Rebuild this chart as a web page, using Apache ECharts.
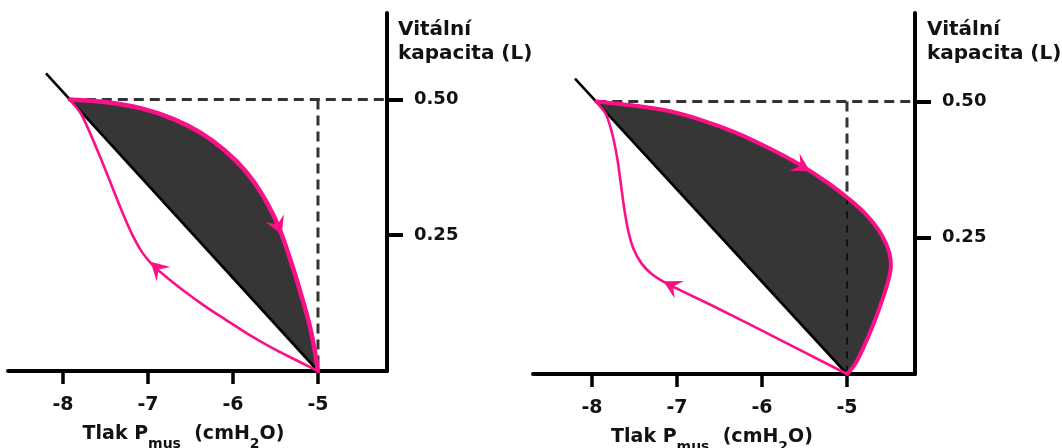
<!DOCTYPE html>
<html>
<head>
<meta charset="utf-8">
<script src="https://cdn.jsdelivr.net/npm/echarts@6/dist/echarts.min.js"></script>
<style>
  html, body { margin: 0; padding: 0; background: #ffffff; }
  #chart { width: 1062px; height: 448px; }
</style>
</head>
<body>
<div id="chart"></div>
<script>
// Axis tick values shared by both panels
const pressureTicks = [-8, -7, -6, -5];
const volumeTicks = [0.25, 0.5];

// Panel A: slow breath (P_mus in cmH2O, volume in L)
const leftCompliance = [[-8.2, 0.548], [-5, 0]];
const leftInspiration = [
  [-7.92, 0.5], [-7.484, 0.495], [-7.089, 0.484], [-6.698, 0.464], [-6.373, 0.438],
  [-6.096, 0.406], [-5.864, 0.370], [-5.669, 0.328], [-5.527, 0.288], [-5.426, 0.251],
  [-5.300, 0.193], [-5.184, 0.133], [-5.089, 0.078], [-5.035, 0.035], [-5.0, 0]
];
const leftExpiration = [
  [-5.0, 0], [-5.296, 0.023], [-5.567, 0.045], [-5.832, 0.069], [-6.092, 0.095],
  [-6.335, 0.120], [-6.564, 0.146], [-6.767, 0.171], [-6.945, 0.195], [-7.066, 0.218],
  [-7.172, 0.247], [-7.287, 0.287], [-7.419, 0.338], [-7.560, 0.393], [-7.698, 0.444],
  [-7.801, 0.477], [-7.92, 0.5]
];
// arrowheads: tip x, tip y, tail x, tail y
const leftArrows = [[-5.426, 0.251, -5.527, 0.288], [-6.97, 0.201, -6.767, 0.171]];

// Panel B: fast breath
const rightCompliance = [[-8.2, 0.542], [-5, 0]];
const rightInspiration = [
  [-7.95, 0.5], [-7.476, 0.492], [-7.082, 0.482], [-6.696, 0.465], [-6.309, 0.443],
  [-5.926, 0.415], [-5.545, 0.383], [-5.219, 0.350], [-5.0, 0.324], [-4.792, 0.295],
  [-4.596, 0.256], [-4.501, 0.222], [-4.484, 0.197], [-4.508, 0.175], [-4.576, 0.140],
  [-4.685, 0.093], [-4.808, 0.048], [-4.909, 0.017], [-5.0, 0]
];
const rightExpiration = [
  [-5.0, 0], [-5.504, 0.040], [-6.028, 0.082], [-6.553, 0.123], [-6.965, 0.154],
  [-7.121, 0.166], [-7.294, 0.183], [-7.418, 0.203], [-7.512, 0.230], [-7.573, 0.262],
  [-7.618, 0.301], [-7.659, 0.347], [-7.700, 0.393], [-7.759, 0.439], [-7.841, 0.478],
  [-7.95, 0.5]
];
const rightArrows = [[-5.435, 0.372, -5.73, 0.399], [-7.16, 0.170, -6.965, 0.154]];

const restPressure = -5;
const tidalVolume = 0.5;

const PINK = '#fb1088';
const FILL = '#363636';
const INK = '#121212';
const FONT = 'DejaVu Sans';

// Centripetal Catmull-Rom spline through pixel points, as SVG path data
function splinePath(pts) {
  const n = pts.length;
  const P = function (k) {
    if (k < 0) return [2 * pts[0][0] - pts[1][0], 2 * pts[0][1] - pts[1][1]];
    if (k >= n) return [2 * pts[n - 1][0] - pts[n - 2][0], 2 * pts[n - 1][1] - pts[n - 2][1]];
    return pts[k];
  };
  const dist = function (a, b) {
    return Math.pow(Math.hypot(b[0] - a[0], b[1] - a[1]), 0.5) || 1e-6;
  };
  let d = 'M' + pts[0][0] + ',' + pts[0][1];
  for (let i = 0; i < n - 1; i++) {
    const p0 = P(i - 1), p1 = P(i), p2 = P(i + 1), p3 = P(i + 2);
    const d1 = dist(p0, p1), d2 = dist(p1, p2), d3 = dist(p2, p3);
    const c1 = [0, 1].map(function (k) {
      return (d1 * d1 * p2[k] - d2 * d2 * p0[k] + (2 * d1 * d1 + 3 * d1 * d2 + d2 * d2) * p1[k]) / (3 * d1 * (d1 + d2));
    });
    const c2 = [0, 1].map(function (k) {
      return (d3 * d3 * p1[k] - d2 * d2 * p3[k] + (2 * d3 * d3 + 3 * d3 * d2 + d2 * d2) * p2[k]) / (3 * d3 * (d3 + d2));
    });
    d += ' C' + c1[0] + ',' + c1[1] + ' ' + c2[0] + ',' + c2[1] + ' ' + p2[0] + ',' + p2[1];
  }
  return d;
}

const panels = [
  {
    grid: { left: 8, top: 13, width: 379, height: 358 },
    xRange: [-8.647, -4.188], yMax: 0.6593, namePad: 28, titlePad: 11,
    compliance: leftCompliance, insp: leftInspiration, exp: leftExpiration,
    arrows: leftArrows, inspWidth: 4.5
  },
  {
    grid: { left: 533, top: 13, width: 382, height: 361 },
    xRange: [-8.694, -4.2], yMax: 0.6624, namePad: 24, titlePad: 12,
    compliance: rightCompliance, insp: rightInspiration, exp: rightExpiration,
    arrows: rightArrows, inspWidth: 4
  }
];

const grids = [], xAxes = [], yAxes = [], series = [];

panels.forEach(function (p, i) {
  grids.push(Object.assign({ containLabel: false, outerBoundsMode: 'none' }, p.grid));

  xAxes.push({
    type: 'value', gridIndex: i, min: p.xRange[0], max: p.xRange[1],
    splitLine: { show: false },
    axisLine: { show: true, onZero: false, lineStyle: { color: '#000', width: 4 } },
    axisTick: { show: true, customValues: pressureTicks, length: 13, lineStyle: { color: '#000', width: 3.5 } },
    axisLabel: {
      customValues: pressureTicks, margin: 25,
      fontFamily: FONT, fontWeight: 'bold', fontSize: 19, color: INK
    },
    name: '{a|Tlak P}{s|mus}{a|  (cmH}{s|2}{a|O)}',
    nameLocation: 'middle', nameGap: 54,
    nameTextStyle: {
      padding: [0, p.namePad, 0, 0],
      rich: {
        a: { fontFamily: FONT, fontWeight: 'bold', fontSize: 19, lineHeight: 22, color: INK, verticalAlign: 'top' },
        s: { fontFamily: FONT, fontWeight: 'bold', fontSize: 14, lineHeight: 16, color: INK, verticalAlign: 'top', padding: [12, 0, 0, 0] }
      }
    }
  });

  yAxes.push({
    type: 'value', gridIndex: i, position: 'right', min: 0, max: p.yMax,
    splitLine: { show: false },
    axisLine: { show: true, onZero: false, lineStyle: { color: '#000', width: 4 } },
    axisTick: { show: true, customValues: volumeTicks, length: 16, lineStyle: { color: '#000', width: 4 } },
    axisLabel: {
      customValues: volumeTicks, margin: 27,
      formatter: function (v) { return v.toFixed(2); },
      fontFamily: FONT, fontWeight: 'bold', fontSize: 18, color: INK
    },
    name: 'Vitální\nkapacita (L)',
    nameLocation: 'end', nameGap: -5,
    nameTextStyle: {
      align: 'left', verticalAlign: 'top', padding: [0, 0, 0, p.titlePad],
      fontFamily: FONT, fontWeight: 'bold', fontSize: 20, lineHeight: 24, color: INK
    }
  });

  // shaded work area between the inspiratory limb and the compliance line
  series.push({
    type: 'custom', xAxisIndex: i, yAxisIndex: i, z: 1, silent: true,
    data: p.insp, encode: { x: 0, y: 1 },
    renderItem: function (params, api) {
      if (params.dataIndex !== 0) return;
      const pts = p.insp.map(function (d) { return api.coord(d); });
      return {
        type: 'path',
        shape: { pathData: splinePath(pts) + ' Z' },
        style: { fill: FILL, stroke: null }
      };
    }
  });

  // static compliance line
  series.push({
    type: 'line', xAxisIndex: i, yAxisIndex: i, z: 2, silent: true,
    data: p.compliance, symbol: 'none',
    lineStyle: { color: '#000', width: 2.6 }
  });

  // dashed guides at end-inspiratory volume and resting pressure
  const crossing = p.insp.find(function (d) { return d[0] === restPressure && d[1] > 0; });
  series.push({
    type: 'line', xAxisIndex: i, yAxisIndex: i, z: 3, silent: true,
    data: [p.insp[0], [p.xRange[1], tidalVolume]], symbol: 'none',
    lineStyle: { color: '#333', width: 3, type: [10, 6] }
  });
  if (crossing) {
    series.push({
      type: 'line', xAxisIndex: i, yAxisIndex: i, z: 3, silent: true,
      data: [[restPressure, tidalVolume], crossing], symbol: 'none',
      lineStyle: { color: '#333', width: 3, type: [10, 6] }
    });
    series.push({
      type: 'line', xAxisIndex: i, yAxisIndex: i, z: 3, silent: true,
      data: [crossing, [restPressure, 0]], symbol: 'none',
      lineStyle: { color: '#111', width: 2, type: [7, 7] }
    });
  } else {
    series.push({
      type: 'line', xAxisIndex: i, yAxisIndex: i, z: 3, silent: true,
      data: [[restPressure, tidalVolume], [restPressure, 0]], symbol: 'none',
      lineStyle: { color: '#333', width: 3, type: [10, 6] }
    });
  }

  // inspiratory and expiratory limbs of the loop
  [[p.insp, p.inspWidth], [p.exp, 2.6]].forEach(function (limb) {
    series.push({
      type: 'custom', xAxisIndex: i, yAxisIndex: i, z: 4, silent: true,
      data: limb[0], encode: { x: 0, y: 1 },
      renderItem: function (params, api) {
        if (params.dataIndex !== 0) return;
        const pts = limb[0].map(function (d) { return api.coord(d); });
        return {
          type: 'path',
          shape: { pathData: splinePath(pts) },
          style: { fill: null, stroke: PINK, lineWidth: limb[1], lineJoin: 'round', lineCap: 'round' }
        };
      }
    });
  });

  // direction arrowheads
  series.push({
    type: 'custom', xAxisIndex: i, yAxisIndex: i, z: 5, silent: true,
    data: p.arrows, encode: { x: [0, 2], y: [1, 3] },
    renderItem: function (params, api) {
      const tip = api.coord([api.value(0), api.value(1)]);
      const tail = api.coord([api.value(2), api.value(3)]);
      const a = Math.atan2(tip[1] - tail[1], tip[0] - tail[0]);
      const L = 18, W = 10, N = 11;
      const local = [[0, 0], [-L, -W], [-N, 0], [-L, W]];
      const pts = local.map(function (q) {
        return [tip[0] + q[0] * Math.cos(a) - q[1] * Math.sin(a),
                tip[1] + q[0] * Math.sin(a) + q[1] * Math.cos(a)];
      });
      return { type: 'polygon', shape: { points: pts }, style: { fill: PINK } };
    }
  });
});

const chart = echarts.init(document.getElementById('chart'), null, { renderer: 'canvas' });
chart.setOption({
  animation: false,
  backgroundColor: '#ffffff',
  grid: grids,
  xAxis: xAxes,
  yAxis: yAxes,
  series: series
});
</script>
</body>
</html>
